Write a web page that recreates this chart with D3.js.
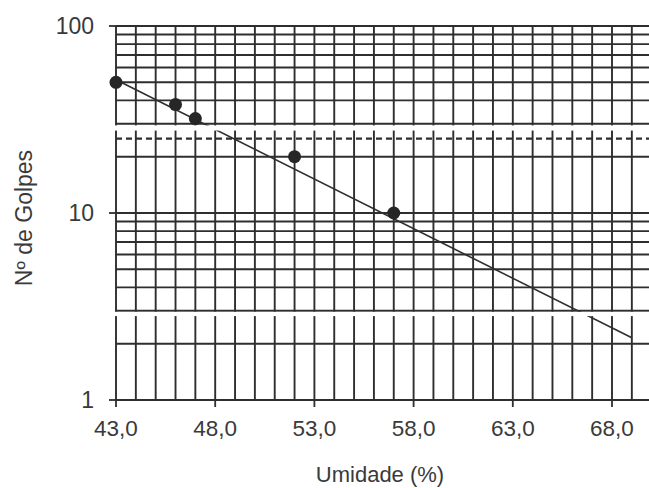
<!DOCTYPE html>
<html>
<head>
<meta charset="utf-8">
<script src="https://cdn.jsdelivr.net/npm/d3@7"></script>
<style>
  html, body { margin: 0; padding: 0; background: #fff; }
  svg { display: block; }
  text { font-family: "Liberation Sans", Arial, sans-serif; fill: #3a3a3a; }
</style>
</head>
<body>
<svg id="chart" width="649" height="488"></svg>
<script>
// ---- data ----
const moisture = [43.0, 46.0, 47.0, 52.0, 57.0];      // Umidade (%)
const blows = [50, 38, 32, 20, 10];                    // Nº de Golpes
const trendMoisture = [43.0, 69.0];                    // trend line ends
const trendBlows = [51.6, 2.15];
const xTickValues = [43, 48, 53, 58, 63, 68];
const yTickValues = [1, 10, 100];
const referenceBlows = [25];                           // dashed line
const xGridValues = d3.range(43, 71, 1);
const yGridValues = [2,3,4,5,6,7,8,9,10,20,30,40,50,60,70,80,90,100];

// ---- layout ----
const svg = d3.select("#chart");
const W = 649, H = 488;
const mLeft = 116, mTop = 26, mBottom = 400;
const x = d3.scaleLinear().domain([43, 70]).range([mLeft, mLeft + 27 * 19.84]);
const y = d3.scaleLog().domain([1, 100]).range([mBottom, mTop]);
const plotRight = x(70);

const ink = "#2e2e2e";
const locale = d3.formatLocale({decimal: ",", thousands: ".", grouping: [3], currency: ["", ""]});
const fmt = locale.format(".1f");

svg.append("rect").attr("width", W).attr("height", H).attr("fill", "#fff");

const g = svg.append("g");

// vertical grid
g.selectAll("line.vg").data(xGridValues).join("line").attr("class", "vg")
  .attr("x1", d => x(d)).attr("x2", d => x(d))
  .attr("y1", y(100)).attr("y2", y(1))
  .attr("stroke", ink).attr("stroke-width", 1.9);

// horizontal grid
g.selectAll("line.hg").data(yGridValues).join("line").attr("class", "hg")
  .attr("x1", x(43)).attr("x2", plotRight)
  .attr("y1", d => y(d)).attr("y2", d => y(d))
  .attr("stroke", ink).attr("stroke-width", 1.9);

// reference dashed line (25 golpes)
g.selectAll("line.ref").data(referenceBlows).join("line").attr("class", "ref")
  .attr("x1", x(43)).attr("x2", plotRight)
  .attr("y1", d => y(d)).attr("y2", d => y(d))
  .attr("stroke", ink).attr("stroke-width", 2.2)
  .attr("stroke-dasharray", "6,4");

// bottom axis line
g.append("line").attr("x1", x(43)).attr("x2", plotRight)
  .attr("y1", y(1)).attr("y2", y(1)).attr("stroke", ink).attr("stroke-width", 2);

// trend line
const trend = trendMoisture.map((m, i) => [m, trendBlows[i]]);
g.append("path").datum(trend)
  .attr("d", d3.line().x(d => x(d[0])).y(d => y(d[1])))
  .attr("fill", "none").attr("stroke", ink).attr("stroke-width", 1.6);

// scan gaps (white strips)
[[29.4, 27.6], [2.96, 2.81]].forEach(([a, b]) => {
  g.append("rect").attr("x", x(43) - 3).attr("width", plotRight - x(43) + 6)
    .attr("y", y(a)).attr("height", y(b) - y(a)).attr("fill", "#fff");
});

// x ticks
g.selectAll("line.xt").data(xTickValues).join("line").attr("class", "xt")
  .attr("x1", d => x(d)).attr("x2", d => x(d))
  .attr("y1", y(1)).attr("y2", y(1) + 7)
  .attr("stroke", ink).attr("stroke-width", 1.8);
// y ticks
g.selectAll("line.yt").data(yTickValues).join("line").attr("class", "yt")
  .attr("x1", x(43) - 7).attr("x2", x(43))
  .attr("y1", d => y(d)).attr("y2", d => y(d))
  .attr("stroke", ink).attr("stroke-width", 1.8);

// points
const pts = moisture.map((m, i) => [m, blows[i]]);
g.selectAll("circle.pt").data(pts).join("circle").attr("class", "pt")
  .attr("cx", d => x(d[0])).attr("cy", d => y(d[1])).attr("r", 6.5)
  .attr("fill", "#262626");

// tick labels
g.selectAll("text.xl").data(xTickValues).join("text").attr("class", "xl")
  .attr("x", d => x(d)).attr("y", 436)
  .attr("text-anchor", "middle").attr("font-size", 22.5)
  .text(d => fmt(d));
g.selectAll("text.yl").data(yTickValues).join("text").attr("class", "yl")
  .attr("x", 94).attr("y", d => y(d)).attr("dy", "0.35em")
  .attr("text-anchor", "end").attr("font-size", 23)
  .text(d => d);

// axis titles
svg.append("text").attr("x", 380).attr("y", 482)
  .attr("text-anchor", "middle").attr("font-size", 22).text("Umidade (%)");
svg.append("text").attr("transform", `translate(32,218) rotate(-90)`)
  .attr("text-anchor", "middle").attr("font-size", 23).text("Nº de Golpes");
</script>
</body>
</html>
